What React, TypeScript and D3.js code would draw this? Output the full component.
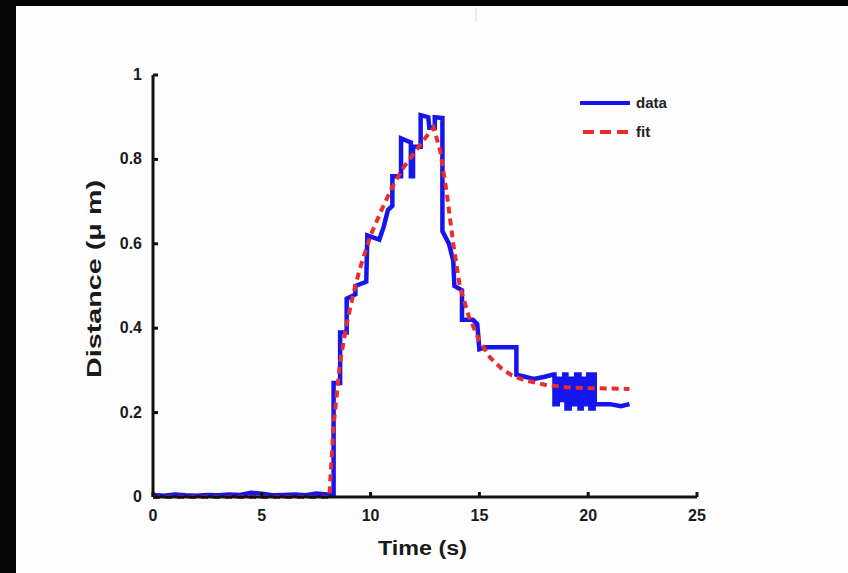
import React from "react";
import * as d3 from "d3";

const dataTime = [
  0, 0.5, 1, 1.5, 2, 2.5, 3, 3.5, 4, 4.5, 5, 5.5, 6, 6.5, 7, 7.5, 8, 8.3,
  8.3, 8.6, 8.6, 8.9, 8.9, 9.3, 9.3, 9.8, 9.85, 10.4, 10.6, 10.8, 11.0, 11.0,
  11.4, 11.4, 11.85, 11.85, 11.95, 11.95, 12.3, 12.3, 12.65, 12.7, 12.95,
  12.95, 13.3, 13.3, 13.6, 13.8, 13.85, 14.2, 14.2, 14.7, 14.9, 15.0, 15.3,
  16.7, 16.7, 17.5, 18.0, 18.4,
  18.45, 18.45, 18.6, 18.6, 18.75, 18.75, 18.9, 18.9, 19.0, 19.0, 19.15, 19.15,
  19.3, 19.3, 19.45, 19.45, 19.6, 19.6, 19.7, 19.7, 19.85, 19.85, 20.0, 20.0,
  20.1, 20.1, 20.25, 20.25, 20.3, 20.3, 21.0, 21.5, 21.9,
];
const dataDist = [
  0.005, 0.003, 0.006, 0.004, 0.003, 0.005, 0.004, 0.006, 0.005, 0.01, 0.008,
  0.004, 0.005, 0.006, 0.004, 0.008, 0.006, 0.005,
  0.27, 0.27, 0.39, 0.39, 0.47, 0.48, 0.5, 0.51, 0.62, 0.61, 0.64, 0.68, 0.69,
  0.76, 0.76, 0.85, 0.84, 0.76, 0.76, 0.83, 0.83, 0.905, 0.9, 0.875, 0.875,
  0.9, 0.898, 0.63, 0.6, 0.56, 0.5, 0.49, 0.42, 0.42, 0.41, 0.35, 0.355,
  0.355, 0.29, 0.28, 0.285, 0.29,
  0.29, 0.22, 0.22, 0.28, 0.28, 0.23, 0.23, 0.29, 0.29, 0.21, 0.21, 0.28,
  0.28, 0.22, 0.22, 0.29, 0.29, 0.21, 0.21, 0.28, 0.28, 0.22, 0.22, 0.29,
  0.29, 0.21, 0.21, 0.29, 0.29, 0.22, 0.22, 0.215, 0.22,
];

const fitTime = [
  0, 8.1, 8.3, 8.6, 8.9, 9.2, 9.5, 10, 10.5, 11, 11.5, 12, 12.5, 12.9, 13.2,
  13.5, 13.8, 14.1, 14.5, 15, 15.5, 16, 16.5, 17, 18, 19, 20, 21, 21.9,
];
const fitDist = [
  0, 0, 0.17, 0.32, 0.41, 0.48, 0.54, 0.62, 0.68, 0.735, 0.78, 0.815, 0.85,
  0.875, 0.82, 0.72, 0.6, 0.5, 0.43, 0.37, 0.33, 0.305, 0.288, 0.278, 0.266,
  0.26, 0.258, 0.257, 0.256,
];

const xTicks = [0, 5, 10, 15, 20, 25];
const yTicks = [0, 0.2, 0.4, 0.6, 0.8, 1];
const yTickLabels = ["0", "0.2", "0.4", "0.6", "0.8", "1"];
const seriesNames = ["data", "fit"];

const W = 848;
const H = 573;
const FONT = "'Liberation Sans', Arial, sans-serif";

export default function App() {
  const x = d3.scaleLinear().domain([0, 25]).range([153, 697]);
  const y = d3.scaleLinear().domain([0, 1]).range([497, 75]);

  const line = d3
    .line<[number, number]>()
    .x((d) => x(d[0]))
    .y((d) => y(d[1]));

  const dataPts = dataTime.map((t, i) => [t, dataDist[i]] as [number, number]);
  const fitPts = fitTime.map((t, i) => [t, fitDist[i]] as [number, number]);

  return (
    <svg
      width={W}
      height={H}
      style={{ position: "fixed", left: 0, top: 0, display: "block" }}
      fontFamily={FONT}
    >
      <rect x={0} y={0} width={W} height={H} fill="#fefefe" />
      <rect x={0} y={0} width={16} height={H} fill="#050505" />
      <rect x={0} y={0} width={W} height={6} fill="#050505" />
      <line x1={476} x2={476} y1={8} y2={22} stroke="#d8d8d8" strokeWidth={1} />

      {/* data */}
      <path
        d={line(dataPts) || ""}
        fill="none"
        stroke="#1515ee"
        strokeWidth={4.5}
        strokeLinejoin="miter"
      />
      {/* fit */}
      <path
        d={line(fitPts) || ""}
        fill="none"
        stroke="#ec2c2c"
        strokeWidth={4}
        strokeDasharray="7,5"
      />

      {/* axes */}
      <line x1={x(0)} x2={x(25)} y1={y(0)} y2={y(0)} stroke="#111" strokeWidth={3} />
      <line x1={x(0)} x2={x(0)} y1={y(0)} y2={y(1)} stroke="#111" strokeWidth={3} />
      {xTicks.map((t) => (
        <g key={"xt" + t}>
          <line x1={x(t)} x2={x(t)} y1={y(0)} y2={y(0) - 5} stroke="#111" strokeWidth={3} />
          <text
            x={x(t)}
            y={y(0) + 24}
            textAnchor="middle"
            fontSize={16}
            fontWeight="bold"
            fill="#1a1a1a"
          >
            {t}
          </text>
        </g>
      ))}
      {yTicks.map((v, i) => (
        <g key={"yt" + v}>
          <line x1={x(0)} x2={x(0) + 5} y1={y(v)} y2={y(v)} stroke="#111" strokeWidth={3} />
          <text
            x={x(0) - 11}
            y={y(v) + 5}
            textAnchor="end"
            fontSize={16}
            fontWeight="bold"
            fill="#1a1a1a"
          >
            {yTickLabels[i]}
          </text>
        </g>
      ))}

      <text
        x={378}
        y={555}
        textLength={89}
        lengthAdjust="spacingAndGlyphs"
        fontSize={20}
        fontWeight="bold"
        fill="#1a1a1a"
      >
        Time (s)
      </text>
      <text
        transform={`translate(101, 378) rotate(-90)`}
        textLength={198}
        lengthAdjust="spacingAndGlyphs"
        fontSize={21}
        fontWeight="bold"
        fill="#1a1a1a"
      >
        Distance (μ m)
      </text>

      {/* legend */}
      <line x1={580} x2={630} y1={103} y2={103} stroke="#1515ee" strokeWidth={4} />
      <text x={636} y={108} fontSize={15} fontWeight="bold" fill="#222">
        {seriesNames[0]}
      </text>
      <line
        x1={583}
        x2={630}
        y1={132}
        y2={132}
        stroke="#ec2c2c"
        strokeWidth={4}
        strokeDasharray="11,6"
      />
      <text x={636} y={137} fontSize={15} fontWeight="bold" fill="#222">
        {seriesNames[1]}
      </text>
    </svg>
  );
}
